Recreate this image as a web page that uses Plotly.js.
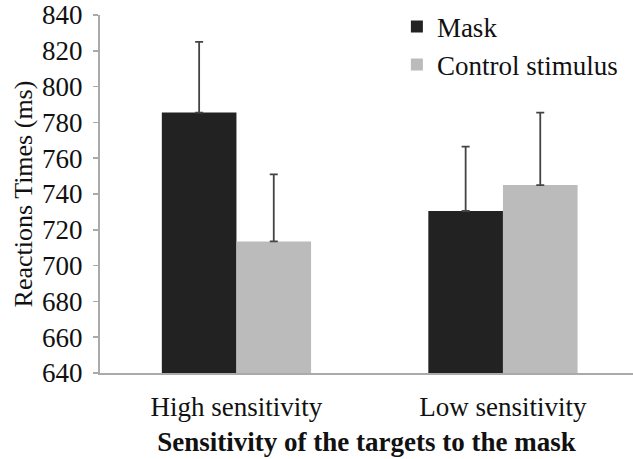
<!DOCTYPE html>
<html><head><meta charset="utf-8">
<script src="https://cdn.plot.ly/plotly-3.0.1.min.js"></script>
<style>body{margin:0;background:#fff}#c{width:633px;height:459px}</style>
</head><body><div id="c"></div>
<script>
const categories = ["High sensitivity", "Low sensitivity"];
const maskValues = [785.5, 730.5];
const maskErrors = [39.5, 36];
const controlValues = [713.5, 745];
const controlErrors = [37.5, 40.5];
const seriesNames = ["Mask", "Control stimulus"];
const yTicks = [640, 660, 680, 700, 720, 740, 760, 780, 800, 820, 840];

const F = "Liberation Serif";
const err = (arr) => ({type:"data", symmetric:false, array:arr, arrayminus:arr.map(()=>0),
  color:"#444", thickness:1.8, width:4});
const data = [
  {type:"bar", name:seriesNames[0], x:categories, y:maskValues, error_y:err(maskErrors),
   marker:{color:"#222222"}, legendgroup:"a"},
  {type:"bar", name:seriesNames[1], x:categories, y:controlValues, error_y:err(controlErrors),
   marker:{color:"#bbbbbb"}, legendgroup:"b"}
];
const layout = {
  width:633, height:459,
  margin:{l:100, r:0, t:15, b:86},
  paper_bgcolor:"#fff", plot_bgcolor:"#fff",
  barmode:"group", bargap:0.44, bargroupgap:0,
  font:{family:F, color:"#111", size:27},
  xaxis:{showline:true, linecolor:"#aaa", linewidth:2, ticks:"outside", ticklen:9,
    tickcolor:"rgba(0,0,0,0)", showgrid:false,
    range:[-0.512, 1.488],
    tickfont:{size:27, family:F, color:"#111"},
    title:{text:"<b>Sensitivity of the targets to the mask</b>", font:{size:27, family:F, color:"#111"}, standoff:11}},
  yaxis:{range:[640,840], tickvals:yTicks, showline:true, linecolor:"#aaa", linewidth:2,
    ticks:"outside", ticklen:5, tickcolor:"#aaa", tickwidth:1.5, showgrid:false, zeroline:false,
    ticklabelstandoff:5,
    tickfont:{size:27, family:F, color:"#111"},
    title:{text:"Reactions Times (ms)", font:{size:26, family:F, color:"#111"}, standoff:2}},
  legend:{x:0.557, y:1.035, xanchor:"left", yanchor:"top", font:{size:27, family:F, color:"#111"},
    tracegroupgap:0, bgcolor:"rgba(0,0,0,0)"},
  showlegend:true
};
Plotly.newPlot("c", data, layout, {displayModeBar:false, staticPlot:true});
</script></body></html>
